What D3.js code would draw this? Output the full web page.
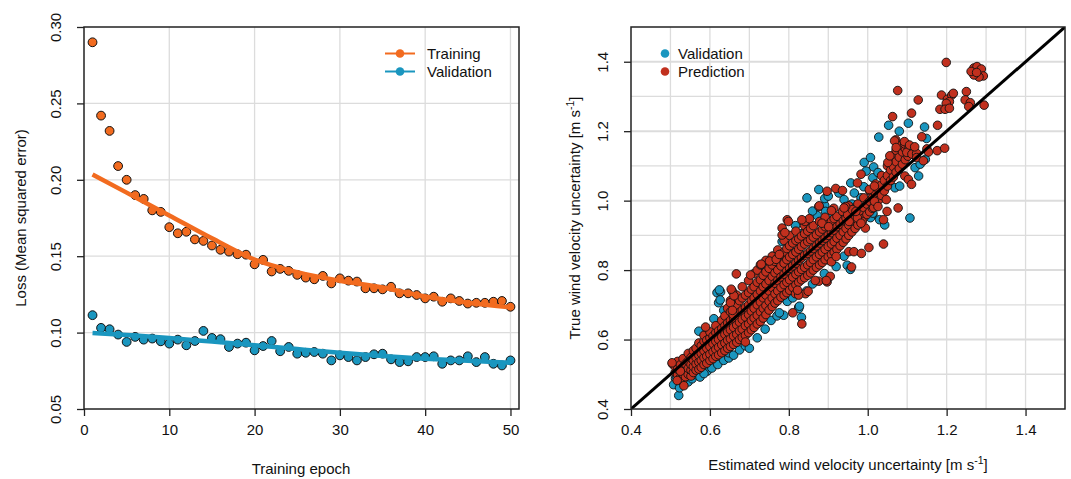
<!DOCTYPE html>
<html>
<head>
<meta charset="utf-8">
<script src="https://cdn.jsdelivr.net/npm/d3@7"></script>
<style>
  html, body { margin: 0; padding: 0; background: #fff; }
  svg { display: block; font-family: "Liberation Sans", Arial, Helvetica, sans-serif; }
</style>
</head>
<body>
<svg id="chart" width="1071" height="479"></svg>
<script>
// ---------------- DATA ----------------
const epochs = d3.range(1, 51);
const trainingLoss = [0.290, 0.242, 0.232, 0.209, 0.200, 0.190, 0.1875, 0.180, 0.179, 0.169,
  0.165, 0.166, 0.161, 0.160, 0.157, 0.1542, 0.153, 0.1513, 0.151, 0.1447,
  0.1476, 0.140, 0.1417, 0.1404, 0.1378, 0.136, 0.1349, 0.1371, 0.1322, 0.1355,
  0.134, 0.1334, 0.129, 0.129, 0.1283, 0.130, 0.1257, 0.1257, 0.1246, 0.1224,
  0.1235, 0.1202, 0.1224, 0.1207, 0.119, 0.1195, 0.1195, 0.1202, 0.1207, 0.1169];
const validationLoss = [0.1114, 0.1031, 0.1022, 0.0987, 0.0939, 0.0972, 0.0954, 0.0961, 0.0943, 0.0928,
  0.0954, 0.0917, 0.0945, 0.1011, 0.0965, 0.0957, 0.0906, 0.0928, 0.0934, 0.0884,
  0.0912, 0.0945, 0.0878, 0.0906, 0.0862, 0.0868, 0.0873, 0.0862, 0.0818, 0.0851,
  0.0840, 0.0818, 0.0840, 0.0858, 0.0862, 0.0825, 0.0807, 0.0812, 0.0840, 0.0840,
  0.0845, 0.0796, 0.0818, 0.0818, 0.0845, 0.0807, 0.0840, 0.0796, 0.0785, 0.0818];
const trendEpochs = [1, 5, 10, 15, 20, 25, 30, 35, 40, 45, 50];
const trainingTrend = [0.2035, 0.1916, 0.1767, 0.1617, 0.1478, 0.1396, 0.1339, 0.1295, 0.1236, 0.1196, 0.1165];
const validationTrend = [0.0998, 0.0984, 0.0965, 0.0941, 0.0917, 0.0892, 0.0868, 0.0847, 0.0829, 0.0815, 0.0803];

const lossTicks = [0.05, 0.10, 0.15, 0.20, 0.25, 0.30];
const epochTicks = [0, 10, 20, 30, 40, 50];
const uncTicks = [0.4, 0.6, 0.8, 1.0, 1.2, 1.4];
const uncGrid = [0.5, 0.6, 0.7, 0.8, 0.9, 1.0, 1.1, 1.2, 1.3, 1.4];

// validation scatter points [estimated, true]
const validationPoints = [
  [0.521,0.439],[0.513,0.488],[0.519,0.475],[0.508,0.470],[0.523,0.461],[0.530,0.480],[0.515,0.495],
  [0.545,0.478],[0.555,0.487],[0.563,0.499],[0.575,0.492],[0.593,0.509],[0.585,0.502],[0.605,0.518],[0.620,0.528],
  [0.635,0.540],[0.648,0.547],[0.648,0.562],[0.635,0.581],[0.660,0.555],[0.675,0.570],[0.690,0.582],[0.700,0.575],
  [0.572,0.624],[0.622,0.706],[0.618,0.735],[0.627,0.737],[0.635,0.684],[0.610,0.660],[0.624,0.743],[0.626,0.714],
  [0.720,0.605],[0.740,0.630],[0.755,0.655],[0.770,0.668],[0.787,0.670],[0.795,0.713],[0.825,0.693],[0.832,0.664],
  [0.825,0.689],[0.796,0.710],[0.810,0.720],[0.845,0.740],[0.860,0.760],[0.872,0.824],[0.876,0.839],[0.901,0.829],
  [0.890,0.790],[0.920,0.810],[0.948,0.814],[0.956,0.802],[0.940,0.840],[0.743,0.696],[0.776,0.677],[0.827,0.696],
  [0.730,0.800],[0.738,0.769],[0.745,0.815],[0.760,0.840],[0.797,0.760],[0.783,0.882],[0.800,0.870],[0.817,0.928],
  [0.830,0.905],[0.850,0.930],[0.872,0.957],[0.891,0.986],[0.860,0.970],[0.70,0.70],[0.76,0.74],[0.82,0.80],[0.88,0.86],
  [0.846,1.008],[0.876,1.032],[0.891,1.006],[0.900,1.013],[0.893,0.969],[0.910,0.954],[0.927,1.022],[0.940,1.003],
  [0.957,1.051],[0.966,1.022],[0.983,1.008],[1.000,0.979],[1.013,0.959],[0.991,1.110],[1.007,1.124],[1.015,1.097],
  [0.996,1.085],[1.013,1.066],[1.026,1.081],[1.034,1.013],[1.056,1.071],[1.060,1.095],[1.064,1.115],[1.069,1.037],
  [1.081,1.042],[1.090,1.105],[1.030,0.945],[1.043,0.930],[1.007,0.951],[1.013,0.964],[1.107,0.950],[1.120,1.095],
  [1.133,1.105],[1.146,1.119],[1.129,1.071],[1.028,1.183],[1.053,1.217],[1.080,1.200],[1.103,1.223],[1.144,1.212],
  [1.149,1.179],
  [0.920,0.900],[0.950,0.930],[0.980,0.960],[1.000,1.000],[1.020,1.030],[1.050,1.060],[1.080,1.120],[1.100,1.140],
  [0.960,0.990],[0.990,1.040],[0.940,0.970]
];

// prediction scatter: dense core columns [estimated, [true values]]
const predictionColumns = [
  [0.505,[0.530]],[0.512,[0.505,0.522]],[0.518,[0.498,0.515,0.537]],[0.525,[0.490,0.508,0.527]],
  [0.532,[0.484,0.500,0.520,0.545]],[0.538,[0.493,0.512,0.530]],[0.545,[0.500,0.517,0.538,0.560]],
  [0.552,[0.495,0.512,0.528,0.548]],[0.558,[0.505,0.522,0.540,0.568]],[0.565,[0.512,0.530,0.548,0.575]],
  [0.572,[0.515,0.535,0.555,0.590]],[0.578,[0.520,0.540,0.560,0.582]],[0.585,[0.528,0.548,0.568,0.595,0.612]],
  [0.592,[0.532,0.552,0.575,0.598]],[0.600,[0.540,0.558,0.580,0.605,0.622]],[0.608,[0.545,0.565,0.588,0.610]],
  [0.615,[0.552,0.572,0.595,0.620,0.640]],[0.622,[0.556,0.578,0.600,0.625]],[0.630,[0.562,0.585,0.608,0.632,0.655]],
  [0.638,[0.568,0.590,0.615,0.640,0.668]],[0.645,[0.575,0.598,0.622,0.648,0.690]],[0.652,[0.580,0.602,0.628,0.655,0.680,0.712]],
  [0.660,[0.586,0.610,0.635,0.662,0.700]],[0.668,[0.592,0.615,0.642,0.668,0.695,0.728]],[0.675,[0.600,0.625,0.650,0.678,0.712]],
  [0.682,[0.606,0.630,0.658,0.685,0.720,0.752]],[0.690,[0.612,0.640,0.665,0.692,0.728]],[0.698,[0.620,0.645,0.672,0.700,0.735,0.770]],
  [0.705,[0.628,0.655,0.682,0.712,0.745]],[0.712,[0.635,0.662,0.690,0.720,0.752,0.790]],[0.720,[0.645,0.670,0.700,0.730,0.765,0.800]],
  [0.728,[0.652,0.680,0.708,0.740,0.772,0.815]],[0.735,[0.662,0.690,0.720,0.752,0.785]],[0.742,[0.672,0.698,0.728,0.760,0.795,0.828]],
  [0.750,[0.685,0.710,0.740,0.770,0.805]],[0.758,[0.695,0.720,0.750,0.782,0.815,0.840]],[0.765,[0.705,0.732,0.762,0.792,0.825]],
  [0.772,[0.712,0.740,0.770,0.800,0.835,0.858]],[0.780,[0.722,0.750,0.780,0.812,0.845]],[0.788,[0.728,0.758,0.788,0.820,0.852,0.885]],
  [0.795,[0.735,0.765,0.798,0.830,0.862]],[0.802,[0.742,0.772,0.805,0.838,0.870,0.900]],[0.810,[0.750,0.780,0.812,0.845,0.878]],
  [0.818,[0.758,0.788,0.820,0.852,0.885,0.912]],[0.825,[0.765,0.795,0.828,0.860,0.890]],[0.832,[0.772,0.802,0.835,0.868,0.898]],
  [0.840,[0.778,0.808,0.842,0.875,0.905,0.928]],[0.848,[0.785,0.815,0.848,0.882,0.912]],[0.855,[0.792,0.822,0.855,0.888,0.920]],
  [0.862,[0.800,0.830,0.862,0.895,0.928]],[0.870,[0.808,0.838,0.870,0.902]],[0.878,[0.815,0.845,0.878,0.910,0.940]],
  [0.885,[0.822,0.852,0.885,0.918]],[0.892,[0.830,0.860,0.892,0.925,0.952]],[0.900,[0.838,0.868,0.900,0.932]],
  [0.908,[0.845,0.875,0.908,0.940]],[0.915,[0.852,0.882,0.915,0.948]],[0.922,[0.860,0.892,0.925,0.955]],
  [0.930,[0.870,0.900,0.932]],[0.938,[0.880,0.910,0.942,0.968]],[0.945,[0.890,0.920,0.950]],
  [0.952,[0.900,0.930,0.960,0.985]],[0.960,[0.910,0.940,0.968]],[0.968,[0.920,0.950,0.978]],
  [0.975,[0.930,0.960,0.990]],[0.982,[0.940,0.970]],[0.990,[0.950,0.980,1.008]],[0.998,[0.960,0.990]],
  [1.005,[0.968,0.998,1.028]],[1.012,[0.978,1.008]],[1.020,[0.990,1.020,1.048]],[1.028,[1.002,1.032]],
  [1.035,[1.015,1.045,1.072]],[1.042,[1.028,1.058]],[1.050,[1.042,1.072,1.100]],[1.058,[1.058,1.088,1.120]],
  [1.065,[1.068,1.098,1.130]],[1.072,[1.082,1.112,1.145]],[1.080,[1.092,1.125,1.160]],[1.088,[1.105,1.140]],
  [1.095,[1.118,1.150]],[1.102,[1.128,1.160]],[1.110,[1.138]],[1.118,[1.142]]
];
// prediction points outside the dense core
const predictionOutliers = [
  [0.504,0.533],[0.517,0.482],[0.534,0.467],[0.525,0.509],[0.589,0.636],[0.652,0.706],[0.659,0.672],[0.690,0.593],
  [0.667,0.789],[0.703,0.786],[0.657,0.739],[0.661,0.726],[0.657,0.684],[0.654,0.745],[0.783,0.921],[0.783,0.901],[0.796,0.945],
  [0.730,0.817],[0.751,0.826],[0.768,0.831],[0.776,0.845],[0.790,0.908],
  [0.841,0.940],[0.852,0.948],[0.876,0.983],[0.914,0.978],[0.810,0.677],[0.833,0.645],[0.842,0.732],[0.817,0.732],
  [0.849,0.739],[0.825,0.728],[0.822,0.742],[0.876,0.768],[0.897,0.766],[0.905,0.782],[0.895,0.770],[0.867,0.770],
  [0.908,0.824],[0.920,0.839],[0.952,0.853],[0.965,0.853],[0.984,0.848],[1.003,0.865],[1.040,0.875],[0.959,0.809],
  [0.986,0.940],[0.994,0.921],[1.015,0.980],[0.877,0.985],[0.897,1.027],[0.919,1.035],[0.936,1.029],[0.974,1.051],
  [0.983,1.076],[1.004,1.032],[1.017,1.042],[1.047,1.003],[1.017,0.998],[1.026,0.983],[1.040,0.945],[1.049,0.969],
  [1.077,0.979],[1.094,1.071],[1.103,1.061],[1.111,1.047],[1.051,1.110],[1.056,1.129],[1.071,1.175],[1.077,1.158],
  [1.094,1.163],[1.105,1.153],[1.117,1.146],[1.099,1.139],[1.112,1.134],[1.124,1.136],[1.124,1.124],[1.141,1.115],
  [1.150,1.149],[1.176,1.144],[1.195,1.151],[1.154,1.140],[1.137,1.184],[1.063,1.242],[1.111,1.252],[1.177,1.217],
  [1.076,1.317],[1.128,1.290],[1.199,1.398],
  [1.269,1.382],[1.277,1.386],[1.288,1.379],[1.293,1.359],[1.282,1.356],[1.269,1.362],[1.262,1.372],[1.276,1.369],
  [1.187,1.304],[1.202,1.292],[1.213,1.304],[1.217,1.309],[1.207,1.285],[1.199,1.280],[1.183,1.263],[1.196,1.263],
  [1.207,1.266],[1.250,1.314],[1.247,1.290],[1.260,1.282],[1.256,1.271],[1.295,1.275],
  [1.068,1.172],[1.093,1.170],[1.106,1.160],[1.119,1.155],[1.072,1.153],
  [0.936,0.969],[0.949,0.959],[0.961,0.974],[0.974,0.950],[0.953,0.940],[0.983,0.935],[0.970,0.969],[0.944,0.983],
  [0.833,0.945],[0.799,0.940],[0.884,0.935],[0.901,0.925],[0.908,0.971],[0.940,0.979]
];

// ---------------- STYLE ----------------
const C_TRAIN = "#F26B1F";
const C_VAL = "#1A96BF";
const C_PRED = "#C1301E";
const GRID = "#dcdcdc";
const FONT = 15;

const svg = d3.select("#chart");

// ---------------- LEFT PANEL ----------------
const L = {x0: 84, x1: 519, y0: 27, y1: 409};
const lx = d3.scaleLinear().domain([0, 51]).range([L.x0, L.x1]);
const ly = d3.scaleLinear().domain([0.05, 0.30]).range([L.y1, L.y0]);

const gl = svg.append("g");
gl.selectAll(".vg").data(epochTicks.filter(d => d > 0)).join("line")
  .attr("x1", d => lx(d)).attr("x2", d => lx(d)).attr("y1", L.y0).attr("y2", L.y1)
  .attr("stroke", GRID).attr("stroke-width", 1.3);
gl.selectAll(".hg").data(lossTicks.filter(d => d > 0.06 && d < 0.29)).join("line")
  .attr("x1", L.x0).attr("x2", L.x1).attr("y1", d => ly(d)).attr("y2", d => ly(d))
  .attr("stroke", GRID).attr("stroke-width", 1.3);

const lxAxis = d3.axisBottom(lx).tickValues(epochTicks).tickSize(7).tickPadding(8).tickFormat(d3.format("d"));
const lxg = gl.append("g").attr("transform", `translate(0,${L.y1})`).call(lxAxis);
const lyAxis = d3.axisLeft(ly).tickValues(lossTicks).tickSize(7).tickFormat(d3.format(".2f"));
const lyg = gl.append("g").attr("transform", `translate(${L.x0},0)`).call(lyAxis);

// points
gl.selectAll(".tp").data(epochs).join("circle")
  .attr("cx", d => lx(d)).attr("cy", (d, i) => ly(trainingLoss[i])).attr("r", 4.4)
  .attr("fill", C_TRAIN).attr("stroke", "#111").attr("stroke-width", 1);
gl.selectAll(".vp").data(epochs).join("circle")
  .attr("cx", d => lx(d)).attr("cy", (d, i) => ly(validationLoss[i])).attr("r", 4.4)
  .attr("fill", C_VAL).attr("stroke", "#111").attr("stroke-width", 1);

// trend lines (drawn on top of points)
const line = d3.line().curve(d3.curveMonotoneX);
gl.append("path")
  .attr("d", line(trendEpochs.map((e, i) => [lx(e), ly(trainingTrend[i])])))
  .attr("fill", "none").attr("stroke", C_TRAIN).attr("stroke-width", 4.5);
gl.append("path")
  .attr("d", line(trendEpochs.map((e, i) => [lx(e), ly(validationTrend[i])])))
  .attr("fill", "none").attr("stroke", C_VAL).attr("stroke-width", 4.5);

gl.append("rect").attr("x", L.x0).attr("y", L.y0).attr("width", L.x1 - L.x0).attr("height", L.y1 - L.y0)
  .attr("fill", "none").attr("stroke", "#222").attr("stroke-width", 1.5);

const legL = [{name: "Training", c: C_TRAIN, y: 53.5}, {name: "Validation", c: C_VAL, y: 71.5}];
legL.forEach(d => {
  gl.append("line").attr("x1", 385).attr("x2", 415).attr("y1", d.y).attr("y2", d.y)
    .attr("stroke", d.c).attr("stroke-width", 2);
  gl.append("circle").attr("cx", 400).attr("cy", d.y).attr("r", 4.3).attr("fill", d.c);
  gl.append("text").attr("x", 427).attr("y", d.y).attr("dy", "0.35em").attr("font-size", FONT)
    .attr("fill", "#111").text(d.name);
});

gl.append("text").attr("x", 301).attr("y", 474).attr("text-anchor", "middle").attr("font-size", FONT)
  .attr("fill", "#111").text("Training epoch");
gl.append("text").attr("transform", "translate(21,218) rotate(-90)").attr("text-anchor", "middle")
  .attr("dy", "0.35em").attr("font-size", FONT).attr("fill", "#111").text("Loss (Mean squared error)");

// ---------------- RIGHT PANEL ----------------
const R = {x0: 631, x1: 1065, y0: 27, y1: 409};
const rx = d3.scaleLinear().domain([0.4, 1.5]).range([R.x0, R.x1]);
const ry = d3.scaleLinear().domain([0.4, 1.5]).range([R.y1, R.y0]);

const gr = svg.append("g");
const isMajor = d => Math.abs(Math.round(d * 10) % 2) === 0;
gr.selectAll(".vg").data(uncGrid).join("line")
  .attr("x1", d => rx(d)).attr("x2", d => rx(d)).attr("y1", R.y0).attr("y2", R.y1)
  .attr("stroke", GRID).attr("stroke-width", 1.3);
gr.selectAll(".hg").data(uncGrid).join("line")
  .attr("x1", R.x0).attr("x2", R.x1).attr("y1", d => ry(d)).attr("y2", d => ry(d))
  .attr("stroke", GRID).attr("stroke-width", d => isMajor(d) ? 2 : 1.3);

const rxAxis = d3.axisBottom(rx).tickValues(uncTicks).tickSize(7).tickPadding(8).tickFormat(d3.format(".1f"));
const rxg = gr.append("g").attr("transform", `translate(0,${R.y1})`).call(rxAxis);
const ryAxis = d3.axisLeft(ry).tickValues(uncTicks).tickSize(7).tickFormat(d3.format(".1f"));
const ryg = gr.append("g").attr("transform", `translate(${R.x0},0)`).call(ryAxis);

const predictionPoints = predictionColumns.flatMap(([x, ys]) => ys.map(y => [x, y])).concat(predictionOutliers);
gr.append("clipPath").attr("id", "rclip").append("rect")
  .attr("x", R.x0).attr("y", R.y0).attr("width", R.x1 - R.x0).attr("height", R.y1 - R.y0);
const pts = gr.append("g").attr("clip-path", "url(#rclip)");
pts.selectAll(".v").data(validationPoints).join("circle")
  .attr("cx", d => rx(d[0])).attr("cy", d => ry(d[1])).attr("r", 4.3)
  .attr("fill", C_VAL).attr("stroke", "#111").attr("stroke-width", 0.9);
pts.selectAll(".p").data(predictionPoints).join("circle")
  .attr("cx", d => rx(d[0])).attr("cy", d => ry(d[1])).attr("r", 4.3)
  .attr("fill", C_PRED).attr("stroke", "#111").attr("stroke-width", 0.9);

pts.append("line").attr("x1", rx(0.4)).attr("y1", ry(0.4)).attr("x2", rx(1.5)).attr("y2", ry(1.5))
  .attr("stroke", "#000").attr("stroke-width", 3);

gr.append("rect").attr("x", R.x0).attr("y", R.y0).attr("width", R.x1 - R.x0).attr("height", R.y1 - R.y0)
  .attr("fill", "none").attr("stroke", "#222").attr("stroke-width", 1.5);

const legR = [{name: "Validation", c: C_VAL, y: 53.5}, {name: "Prediction", c: C_PRED, y: 71.5}];
legR.forEach(d => {
  gr.append("circle").attr("cx", 665).attr("cy", d.y).attr("r", 4.3).attr("fill", d.c);
  gr.append("text").attr("x", 678).attr("y", d.y).attr("dy", "0.35em").attr("font-size", FONT)
    .attr("fill", "#111").text(d.name);
});

const xt = gr.append("text").attr("x", 848).attr("y", 470).attr("text-anchor", "middle")
  .attr("font-size", FONT).attr("fill", "#111");
xt.append("tspan").text("Estimated wind velocity uncertainty [m s");
xt.append("tspan").attr("font-size", 10.5).attr("dy", -6).text("-1");
xt.append("tspan").attr("dy", 6).text("]");

const yt = gr.append("text").attr("transform", "translate(575,218) rotate(-90)").attr("text-anchor", "middle")
  .attr("dy", "0.35em").attr("font-size", FONT).attr("fill", "#111");
yt.append("tspan").text("True wind velocity uncertainty [m s");
yt.append("tspan").attr("font-size", 10.5).attr("dy", -6).text("-1");
yt.append("tspan").attr("dy", 6).text("]");

// ---------------- AXIS STYLING ----------------
[lxg, lyg, rxg, ryg].forEach(g => {
  g.select(".domain").remove();
  g.selectAll(".tick line").attr("stroke", "#222").attr("stroke-width", 1.3);
  g.selectAll(".tick text").attr("font-size", FONT).attr("fill", "#111")
    .attr("font-family", "'Liberation Sans', Arial, Helvetica, sans-serif");
});
[lyg, ryg].forEach(g => {
  g.selectAll(".tick text")
    .attr("x", null).attr("dy", "0em").attr("y", 0)
    .attr("text-anchor", "middle")
    .attr("transform", "translate(-23,0) rotate(-90)");
});
</script>
</body>
</html>
